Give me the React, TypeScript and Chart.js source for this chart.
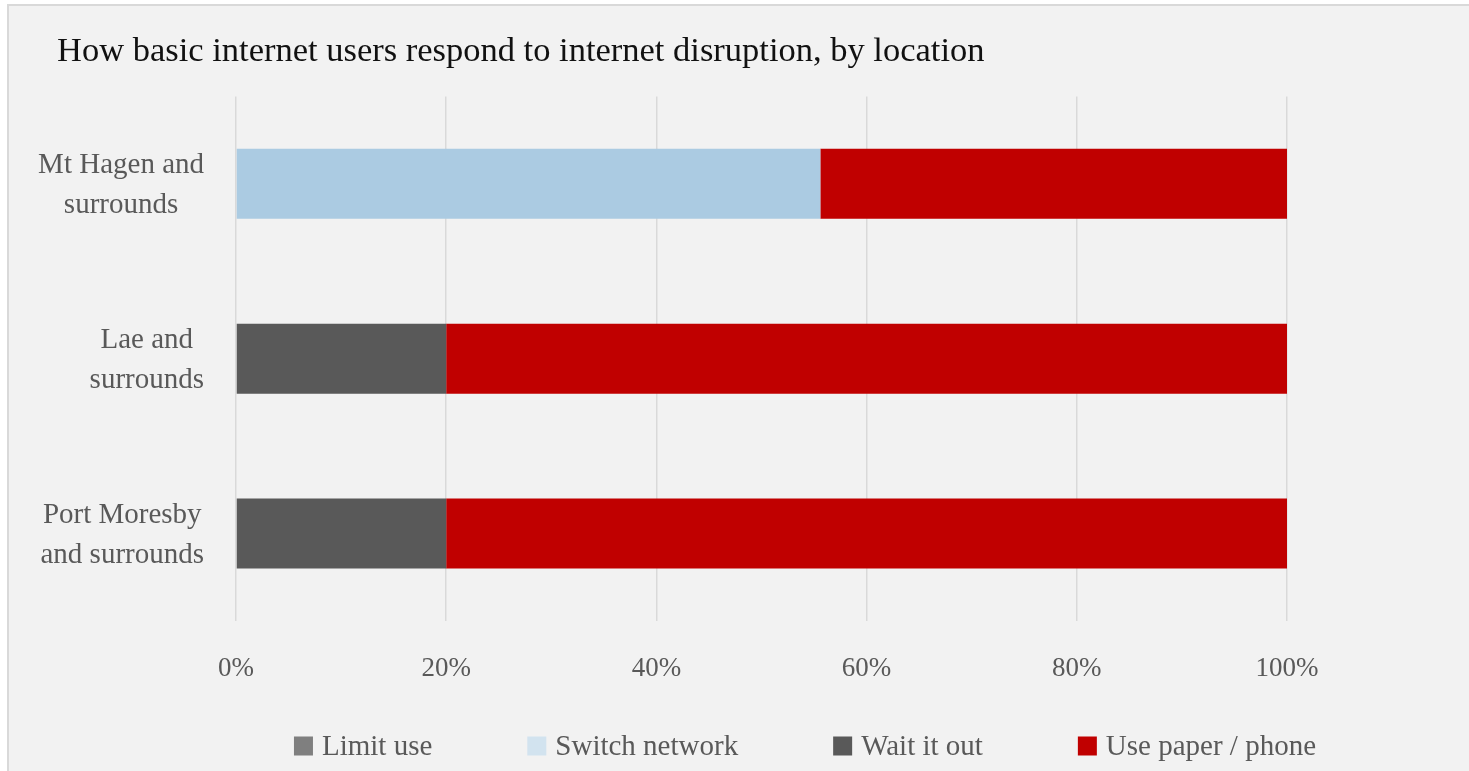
import React, { useEffect, useRef } from "react";
import { Chart, registerables } from "chart.js";

Chart.register(...registerables);

const TITLE = "How basic internet users respond to internet disruption, by location";
const categories: string[][] = [
  ["Mt Hagen and", "surrounds"],
  ["Lae and", "surrounds"],
  ["Port Moresby", "and surrounds"],
];
const seriesNames = ["Limit use", "Switch network", "Wait it out", "Use paper / phone"];
const limitUse = [0, 0, 0];
const switchNetwork = [55.6, 0, 0];
const waitItOut = [0, 20, 20];
const usePaperPhone = [44.4, 80, 80];
const xTicks = [0, 20, 40, 60, 80, 100];

const barColors = ["#7f7f7f", "#abcbe2", "#595959", "#c00000"];
const legendColors = ["#7f7f7f", "#d2e3ef", "#595959", "#c00000"];
const FONT = "'Liberation Serif', 'Times New Roman', serif";
const TEXT = "#595959";

export default function App() {
  const ref = useRef<HTMLCanvasElement | null>(null);

  useEffect(() => {
    document.body.style.margin = "0";
    const canvas = ref.current;
    if (!canvas) return;

    const yLabelPlugin = {
      id: "yLabels",
      afterDraw(chart: any) {
        const ctx = chart.ctx;
        const y = chart.scales.y;
        const right = chart.chartArea.left - 32;
        ctx.save();
        ctx.font = `29px ${FONT}`;
        ctx.fillStyle = TEXT;
        ctx.textAlign = "center";
        ctx.textBaseline = "middle";
        categories.forEach((lines, i) => {
          const cy = y.getPixelForTick(i);
          const w = Math.max(...lines.map((l) => ctx.measureText(l).width));
          const cx = right - w / 2;
          const lh = 40;
          lines.forEach((l, j) => {
            ctx.fillText(l, cx, cy + 2 + (j - (lines.length - 1) / 2) * lh);
          });
        });
        ctx.restore();
      },
    };

    const legendPlugin = {
      id: "customLegend",
      afterDraw(chart: any) {
        const ctx = chart.ctx;
        ctx.save();
        ctx.font = `29px ${FONT}`;
        ctx.textBaseline = "middle";
        ctx.textAlign = "left";
        const box = 19;
        const boxGap = 9;
        const gap = 95;
        const widths = seriesNames.map((n) => box + boxGap + ctx.measureText(n).width);
        const total = widths.reduce((a, b) => a + b, 0) + gap * (widths.length - 1);
        let x = 805 - total / 2;
        const cy = 746;
        seriesNames.forEach((n, i) => {
          ctx.fillStyle = legendColors[i];
          ctx.fillRect(x, cy - box / 2, box, box);
          ctx.fillStyle = TEXT;
          ctx.fillText(n, x + box + boxGap, cy + 1);
          x += widths[i] + gap;
        });
        ctx.restore();
      },
    };

    const data = [limitUse, switchNetwork, waitItOut, usePaperPhone];

    const chart = new Chart(canvas, {
      type: "bar",
      data: {
        labels: categories.map((c) => c.join(" ")),
        datasets: seriesNames.map((name, i) => ({
          label: name,
          data: data[i],
          backgroundColor: barColors[i],
          borderWidth: 0,
          barPercentage: 0.4,
          categoryPercentage: 1,
        })),
      },
      options: {
        indexAxis: "y",
        responsive: false,
        animation: false,
        devicePixelRatio: 1,
        layout: { padding: { left: 57, right: 182, top: 0, bottom: 0 } },
        plugins: {
          legend: { display: false },
          tooltip: { enabled: false },
          title: {
            display: true,
            text: TITLE,
            align: "start",
            color: "#111111",
            font: { family: FONT, size: 34.5, weight: "normal" },
            padding: { top: 31, bottom: 24 },
          },
        },
        scales: {
          x: {
            stacked: true,
            min: 0,
            max: 100,
            afterBuildTicks: (scale: any) => {
              scale.ticks = xTicks.map((v) => ({ value: v }));
            },
            afterFit: (scale: any) => {
              scale.height = 150;
            },
            grid: { color: "#d9d9d9", lineWidth: 1.5, drawTicks: false },
            border: { display: false },
            ticks: {
              color: TEXT,
              padding: 32,
              font: { family: FONT, size: 27 },
              callback: (v: any) => `${v}%`,
            },
          },
          y: {
            stacked: true,
            afterFit: (scale: any) => {
              scale.width = 179;
            },
            grid: { display: false, drawTicks: false },
            border: { display: false },
            ticks: { display: false },
          },
        },
      },
      plugins: [yLabelPlugin, legendPlugin],
    });

    return () => chart.destroy();
  }, []);

  return (
    <div style={{ position: "relative", width: 1469, height: 771, overflow: "hidden", background: "#ffffff" }}>
      <div
        style={{
          position: "absolute",
          left: 7,
          top: 4,
          width: 1500,
          height: 800,
          boxSizing: "border-box",
          background: "#f2f2f2",
          border: "2px solid #d9d9d9",
        }}
      />
      <canvas ref={ref} width={1469} height={771} style={{ position: "absolute", left: 0, top: 0, display: "block" }} />
    </div>
  );
}
